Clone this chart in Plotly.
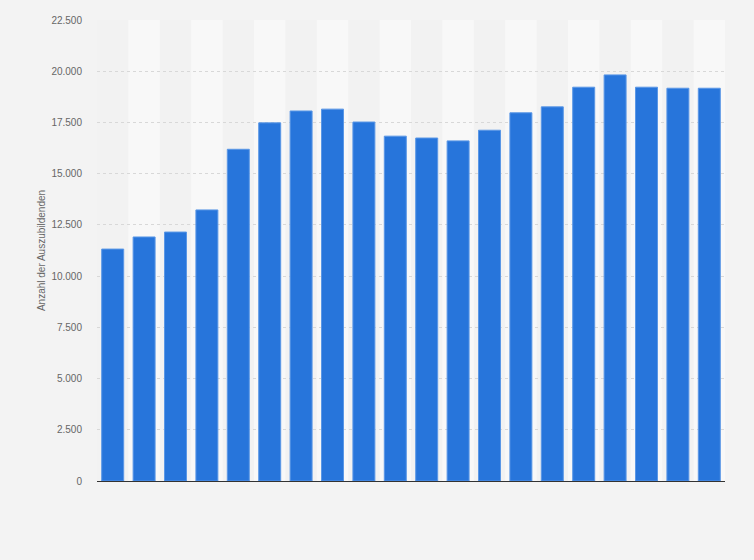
import plotly.graph_objects as go

# Data (x-axis labels are not shown in the reference)
categories = [str(i) for i in range(1, 21)]
azubis = [11320, 11910, 12150, 13230, 16190, 17480, 18060, 18150, 17520, 16830,
          16740, 16600, 17120, 17970, 18260, 19220, 19820, 19220, 19170, 19170]
y_tickvals = [0, 2500, 5000, 7500, 10000, 12500, 15000, 17500, 20000, 22500]
y_title = "Anzahl der Auszubildenden"

fig = go.Figure()
fig.add_trace(go.Bar(
    x=categories, y=azubis,
    marker=dict(color="#2775db", line=dict(color="#5a97e6", width=1)),
    hoverinfo="x+y",
))

shapes = []
for i, c in enumerate(categories):
    if i % 2 == 1:
        shapes.append(dict(type="rect", xref="x", yref="paper",
                           x0=i - 0.5, x1=i + 0.5, y0=0, y1=1,
                           fillcolor="#f8f8f8", line=dict(width=0), layer="below"))

fig.update_layout(
    width=754, height=560,
    paper_bgcolor="#f3f3f3", plot_bgcolor="#f2f2f2",
    margin=dict(l=97, r=29, t=20, b=79),
    bargap=0.3,
    separators=",.",
    showlegend=False,
    shapes=shapes,
    font=dict(family="Liberation Sans, Arial, sans-serif", color="#666666", size=10),
    xaxis=dict(showticklabels=False, showgrid=False, zeroline=False,
               showline=True, linecolor="#333333", linewidth=1, ticks=""),
    yaxis=dict(range=[0, 22500], tickvals=y_tickvals, tickformat=",d",
               showgrid=True, gridcolor="#d8d8d8", griddash="dot", gridwidth=1,
               zeroline=False, showline=False, ticks="", ticklabelstandoff=14,
               tickfont=dict(size=10, color="#666666"),
               title=dict(text=y_title, font=dict(size=10, color="#666666"), standoff=3)),
)

fig.write_html(
    "out.html",
    config={"displayModeBar": False},
    post_script="document.body.style.margin='0';document.body.style.background='#f3f3f3';",
)
